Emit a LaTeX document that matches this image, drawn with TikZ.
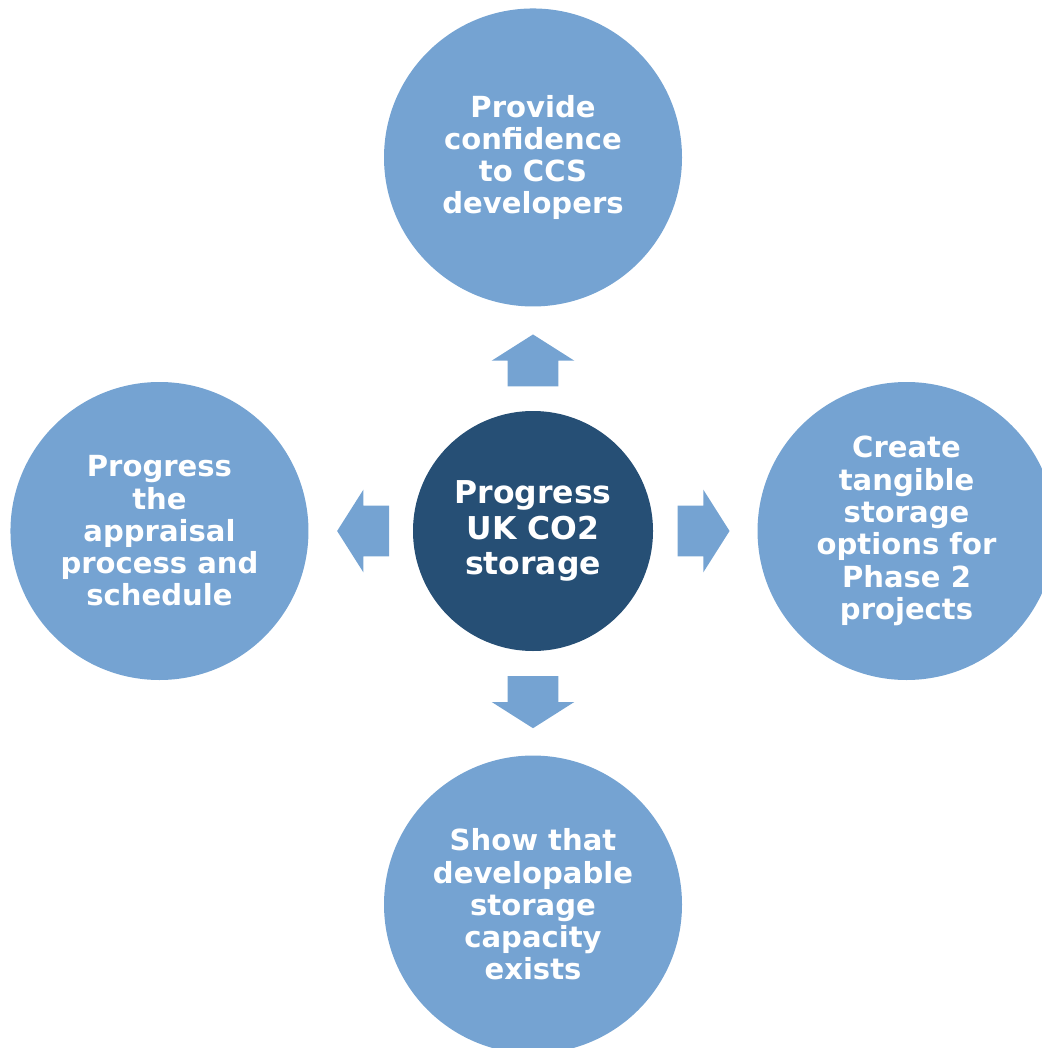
\documentclass[tikz,border=0pt]{standalone}
\usepackage{fontspec}
\setmainfont{DejaVu Sans}
\usetikzlibrary{shapes}
\usetikzlibrary{shapes.arrows}
\usetikzlibrary{positioning}
\usetikzlibrary{calc}
\definecolor{lightblu}{HTML}{75A3D2}
\definecolor{darkblu}{HTML}{264F75}
\tikzset{
    goalnode/.style = {circle, fill=lightblu, align=center, minimum size=223.5pt, inner sep=0pt, text=white, font=\fontsize{21.8}{24.2}\selectfont\bfseries},
    hubnode/.style = {circle, fill=darkblu, align=center, minimum size=180pt, inner sep=0pt, text=white, font=\fontsize{23.6}{26.4}\selectfont\bfseries},
    blockarrow/.style = {single arrow, fill=lightblu, anchor=tail, inner xsep=0pt, inner ysep=18.75pt, minimum height=39pt, minimum width=61.5pt, single arrow head extend=12pt, single arrow tip angle=115.2}
}

\begin{document}
\begin{tikzpicture}[x=0.75pt, y=-0.75pt, node distance=78pt]
    \useasboundingbox (0,0) rectangle (1041,1048);

    \node[hubnode] (hub) at (533,531) {Progress\\UK CO2\\storage};

    \node[goalnode, above=of hub] (top) {Provide\\confidence\\to CCS\\developers};
    \node[goalnode, left=of hub] (left) {Progress\\the\\appraisal\\process and\\schedule};
    \node[goalnode, right=of hub] (right) {Create\\tangible\\storage\\options for\\Phase 2\\projects};
    \node[goalnode, below=of hub] (bottom) {Show that\\developable\\storage\\capacity\\exists};

    % block arrows, tail close to the hub
    \node[blockarrow, rotate=90] (aup) at ($(hub.north)!18pt!(top.south)$) {};
    \node[blockarrow, rotate=180] (aleft) at ($(hub.west)!17.5pt!(left.east)$) {};
    \node[blockarrow] (aright) at ($(hub.east)!18pt!(right.west)$) {};
    \node[blockarrow, rotate=-90] (adown) at ($(hub.south)!18.5pt!(bottom.north)$) {};

\end{tikzpicture}
\end{document}
